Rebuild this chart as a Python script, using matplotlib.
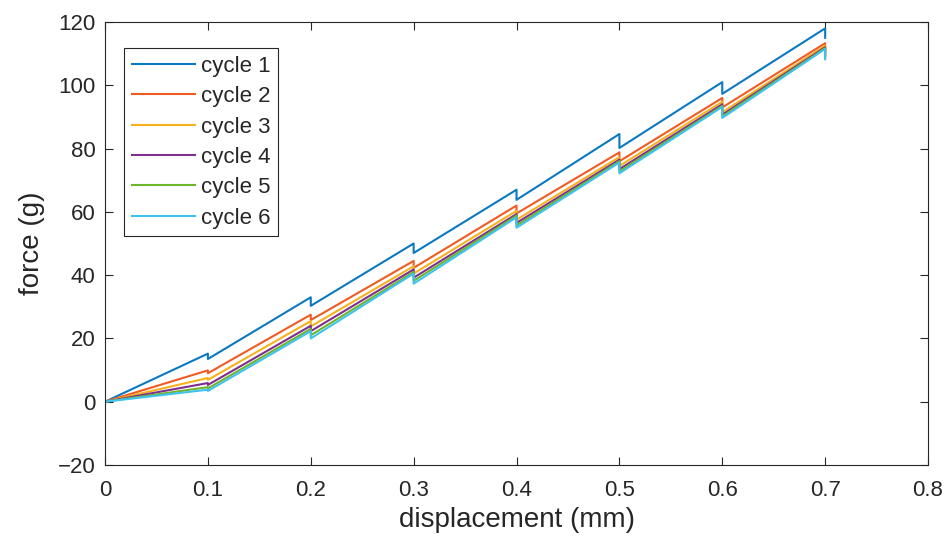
import numpy as np
import matplotlib
matplotlib.use("Agg")
import matplotlib.pyplot as plt

# displacement steps (mm); force is held at each step and relaxes
steps = [0.0, 0.1, 0.2, 0.3, 0.4, 0.5, 0.6, 0.7]

# force at the end of each ramp (g)
peak_c1 = [0, 15.2, 33.0, 50.0, 67.0, 84.6, 101.0, 118.0]
peak_c2 = [0, 9.9, 27.5, 44.5, 62.0, 78.8, 96.0, 113.3]
peak_c3 = [0, 7.5, 25.5, 42.8, 60.3, 77.3, 94.8, 112.5]
peak_c4 = [0, 5.9, 24.0, 41.8, 59.3, 76.5, 94.0, 112.0]
peak_c5 = [0, 4.6, 23.0, 41.0, 58.8, 76.0, 93.5, 111.7]
peak_c6 = [0, 3.8, 22.3, 40.5, 58.3, 75.6, 93.2, 111.5]

# force after relaxation at each step (g)
relax_c1 = [0, 13.5, 30.3, 47.0, 63.8, 80.2, 97.3, 115.0]
relax_c2 = [0, 9.0, 25.8, 42.3, 59.5, 76.0, 93.0, 110.8]
relax_c3 = [0, 6.9, 23.8, 40.5, 57.5, 74.5, 91.5, 110.0]
relax_c4 = [0, 5.3, 22.3, 39.2, 56.5, 73.5, 90.7, 109.3]
relax_c5 = [0, 4.2, 21.0, 38.2, 55.7, 72.8, 90.2, 108.8]
relax_c6 = [0, 3.4, 20.0, 37.3, 55.0, 72.2, 89.7, 108.2]

labels = ["cycle 1", "cycle 2", "cycle 3", "cycle 4", "cycle 5", "cycle 6"]
colors = ["#0B79C2", "#F05A23", "#F5B21C", "#7E2F8E", "#6DB52C", "#3FC3EE"]

peaks = [peak_c1, peak_c2, peak_c3, peak_c4, peak_c5, peak_c6]
relaxed = [relax_c1, relax_c2, relax_c3, relax_c4, relax_c5, relax_c6]


def staircase(xs, pk, rl):
    # ramp to each peak, then drop straight down to the relaxed value
    x, y = [xs[0]], [pk[0]]
    for i in range(1, len(xs)):
        x += [xs[i], xs[i]]
        y += [pk[i], rl[i]]
    return np.array(x), np.array(y)


plt.rcParams['font.family'] = ['Liberation Sans', 'DejaVu Sans']
ink = "#262626"

fig = plt.figure(figsize=(9.53, 5.41), dpi=100)
ax = fig.add_axes([0.1102, 0.1405, 0.8636, 0.8188])

for pk, rl, c, lab in zip(peaks, relaxed, colors, labels):
    x, y = staircase(steps, pk, rl)
    ax.plot(x, y, color=c, lw=1.5, label=lab)

ax.set_xlim(0, 0.8)
ax.set_ylim(-20, 120)
xt = np.round(np.arange(0, 0.81, 0.1), 1)
ax.set_xticks(xt)
ax.set_xticklabels(["0"] + [f"{v:g}" for v in xt[1:]])
ax.set_yticks(np.arange(-20, 121, 20))

ax.tick_params(direction="in", top=True, right=True, length=6, width=0.8,
               colors=ink, labelsize=16, pad=7)
ax.tick_params(axis="x", pad=11)
for s in ax.spines.values():
    s.set_color(ink)
    s.set_linewidth(0.8)

ax.set_xlabel("displacement (mm)", fontsize=20, color=ink, labelpad=4)
ax.set_ylabel("force (g)", fontsize=20, color=ink, labelpad=9)

leg = ax.legend(loc="upper left", bbox_to_anchor=(0.023, 0.941),
                borderaxespad=0, fontsize=16, handlelength=2.85,
                labelspacing=0.42, handletextpad=0.25, borderpad=0.35,
                fancybox=False, framealpha=1)
leg.get_frame().set_edgecolor(ink)
leg.get_frame().set_linewidth(0.8)
for t in leg.get_texts():
    t.set_color(ink)

fig.savefig("out.png", dpi=100)
